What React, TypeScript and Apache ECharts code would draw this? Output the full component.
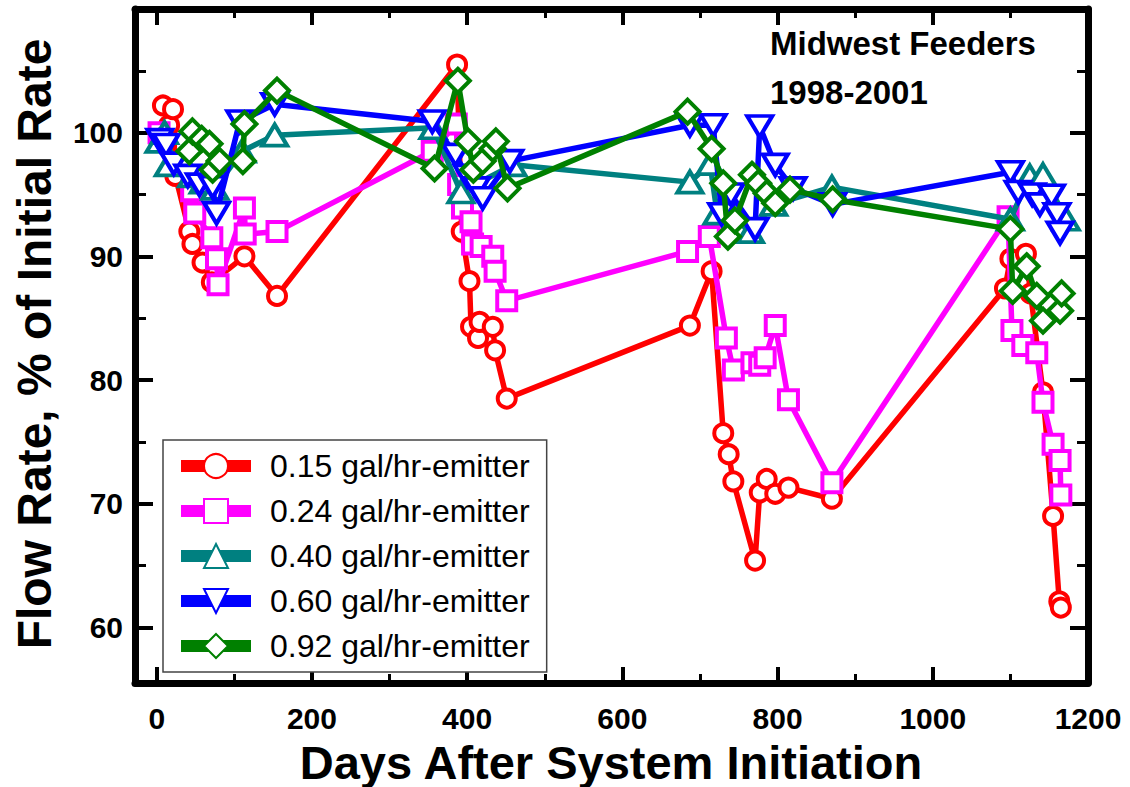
import React, { useEffect, useRef } from "react";
import * as echarts from "echarts";

const FONT = '"Liberation Sans", Arial, Helvetica, sans-serif';

const seriesNames = [
  "0.15 gal/hr-emitter",
  "0.24 gal/hr-emitter",
  "0.40 gal/hr-emitter",
  "0.60 gal/hr-emitter",
  "0.92 gal/hr-emitter",
];
const seriesColors = ["#ff0000", "#ff00ff", "#008080", "#0000ff", "#008000"];

const redDays = [8, 16, 21, 24, 42, 46, 59, 71, 113, 155, 387, 393, 403, 405, 414, 416, 433, 436, 451, 687, 715, 730, 737, 743, 771, 777, 786, 797, 814, 870, 1093, 1100, 1120, 1126, 1142, 1155, 1163, 1165];
const redValues = [102.2, 100.6, 101.9, 96.5, 92.0, 91.0, 89.5, 87.9, 90.0, 86.8, 105.5, 92.0, 88.0, 84.3, 83.4, 84.7, 84.3, 82.4, 78.5, 84.4, 88.8, 75.7, 74.0, 71.8, 65.4, 70.9, 72.0, 70.8, 71.3, 70.4, 87.4, 89.8, 90.2, 87.0, 79.0, 69.0, 62.1, 61.6];

const magentaDays = [3, 45, 49, 71, 77, 79, 113, 114, 155, 355, 386, 389, 394, 405, 407, 418, 433, 436, 451, 684, 712, 734, 743, 767, 777, 784, 797, 814, 870, 1097, 1102, 1116, 1134, 1142, 1155, 1164, 1165];
const magentaValues = [100.0, 95.3, 93.5, 91.5, 89.8, 87.7, 93.9, 91.8, 92.0, 98.5, 100.7, 95.8, 93.9, 92.8, 91.0, 90.8, 90.0, 88.8, 86.4, 90.4, 91.6, 83.4, 80.8, 81.4, 81.2, 81.8, 84.4, 78.4, 71.7, 93.2, 84.0, 82.8, 82.2, 78.2, 74.8, 73.5, 70.7];

const tealDays = [3, 10, 15, 45, 60, 75, 110, 152, 356, 392, 459, 687, 713, 722, 752, 765, 795, 870, 1100, 1125, 1142, 1172];
const tealValues = [99.3, 100.0, 97.4, 96.5, 96.0, 95.5, 98.5, 99.8, 100.4, 95.2, 97.4, 96.0, 97.5, 93.5, 92.0, 92.0, 94.2, 95.6, 93.0, 96.5, 96.6, 93.0];

const blueDays = [4, 12, 22, 40, 55, 72, 77, 107, 152, 355, 385, 400, 412, 420, 455, 687, 717, 728, 740, 771, 777, 797, 820, 871, 1100, 1110, 1128, 1138, 1153, 1160, 1164];
const blueValues = [99.4, 99.0, 97.5, 96.5, 95.8, 95.6, 93.5, 100.9, 102.3, 100.9, 98.2, 96.5, 95.5, 94.7, 97.7, 100.6, 100.6, 93.4, 95.0, 92.2, 100.5, 97.4, 95.5, 94.2, 96.8, 95.2, 95.0, 94.2, 94.9, 93.4, 91.9];

const greenDays = [42, 46, 58, 68, 72, 81, 111, 113, 155, 358, 388, 401, 408, 420, 433, 437, 452, 684, 715, 730, 736, 745, 767, 775, 786, 797, 816, 871, 1100, 1103, 1121, 1134, 1142, 1164, 1166];
const greenValues = [98.5, 100.1, 99.5, 99.1, 97.0, 97.7, 97.7, 100.7, 103.4, 97.1, 104.2, 99.3, 97.0, 97.7, 98.7, 99.3, 95.5, 101.7, 98.7, 95.9, 91.6, 92.9, 96.6, 95.9, 95.1, 94.3, 95.4, 94.6, 92.2, 87.2, 89.2, 86.8, 84.8, 85.6, 87.0];

const xMajorTicks = [0, 200, 400, 600, 800, 1000, 1200];
const xMinorTicks = [100, 300, 500, 700, 900, 1100];
const yMajorTicks = [60, 70, 80, 90, 100];
const yMinorTicks = [65, 75, 85, 95, 105];

const X_MIN = -28;
const X_MAX = 1200;
const Y_MIN = 55.5;
const Y_MAX = 110;

function axisDef(kind: "x" | "y", position: string, ticks: number[], len: number, tw: number, showLine: boolean, labels: number[] | null) {
  return {
    type: "value",
    position,
    min: kind === "x" ? X_MIN : Y_MIN,
    max: kind === "x" ? X_MAX : Y_MAX,
    axisLine: { show: showLine, onZero: false, lineStyle: { color: "#000", width: 7 } },
    axisTick: { show: true, inside: true, length: len, lineStyle: { color: "#000", width: tw }, customValues: ticks },
    axisLabel: labels
      ? {
          show: true,
          customValues: labels,
          formatter: (v: number) => String(v),
          fontSize: 30,
          fontWeight: "bold",
          color: "#000",
          fontFamily: FONT,
          margin: kind === "x" ? 20 : 12,
        }
      : { show: false },
    splitLine: { show: false },
    minorTick: { show: false },
  };
}

function lineSeries(idx: number, days: number[], values: number[], symbol: string, size: number | number[], rotate: number) {
  const color = seriesColors[idx];
  return {
    name: seriesNames[idx],
    type: "line",
    xAxisIndex: 0,
    yAxisIndex: 0,
    data: days.map((d, i) => [d, values[i]]),
    symbol,
    symbolSize: size,
    symbolRotate: rotate,
    showAllSymbol: true,
    clip: false,
    lineStyle: { color, width: 5.5 },
    itemStyle: { color: "#fff", borderColor: color, borderWidth: 4 },
    emphasis: { disabled: true },
    z: 2 + idx,
  };
}

export default function App() {
  const ref = useRef<HTMLDivElement>(null);
  useEffect(() => {
    document.body.style.margin = "0";
    if (!ref.current) return;
    const chart = echarts.init(ref.current, null, { renderer: "svg" });
    chart.setOption({
      animation: false,
      backgroundColor: "#fff",
      grid: { left: 135, right: 42, top: 9, bottom: 104, containLabel: false },
      xAxis: [
        axisDef("x", "bottom", xMajorTicks, 16, 4, true, xMajorTicks),
        axisDef("x", "bottom", xMinorTicks, 9, 3, false, null),
        axisDef("x", "top", xMajorTicks, 16, 4, true, null),
        axisDef("x", "top", xMinorTicks, 9, 3, false, null),
      ],
      yAxis: [
        axisDef("y", "left", yMajorTicks, 18, 4, true, yMajorTicks),
        axisDef("y", "left", yMinorTicks, 11, 3, false, null),
        axisDef("y", "right", yMajorTicks, 18, 4, true, null),
        axisDef("y", "right", yMinorTicks, 11, 3, false, null),
      ],
      legend: {
        orient: "vertical",
        left: 163,
        top: 440,
        padding: [10, 17, 10, 12],
        itemWidth: 70,
        itemHeight: 30,
        itemGap: 13,
        borderColor: "#444",
        borderWidth: 1.5,
        backgroundColor: "#fff",
        selectedMode: false,
        data: seriesNames,
        lineStyle: { width: 12 },
        textStyle: { fontSize: 32, color: "#000", fontFamily: FONT, padding: [0, 0, 0, 14] },
      },
      graphic: [
        { type: "text", x: 770, y: 43, style: { text: "Midwest Feeders", fontSize: 33, fontWeight: "bold", fontFamily: FONT, fill: "#000", align: "left", verticalAlign: "middle" } },
        { type: "text", x: 770, y: 92, style: { text: "1998-2001", fontSize: 33, fontWeight: "bold", fontFamily: FONT, fill: "#000", align: "left", verticalAlign: "middle" } },
        { type: "text", x: 611, y: 762, style: { text: "Days After System Initiation", fontSize: 47, fontWeight: "bold", fontFamily: FONT, fill: "#000", align: "center", verticalAlign: "middle" } },
        { type: "text", x: 34, y: 344, rotation: Math.PI / 2, style: { text: "Flow Rate, % of Initial Rate", fontSize: 48, fontWeight: "bold", fontFamily: FONT, fill: "#000", align: "center", verticalAlign: "middle" } },
      ],
      series: [
        lineSeries(0, redDays, redValues, "circle", 18, 0),
        lineSeries(1, magentaDays, magentaValues, "rect", 19, 0),
        lineSeries(2, tealDays, tealValues, "triangle", [25, 21], 0),
        lineSeries(3, blueDays, blueValues, "triangle", [25, 21], 180),
        lineSeries(4, greenDays, greenValues, "diamond", [24, 24], 0),
      ],
    });
    return () => chart.dispose();
  }, []);
  return <div ref={ref} style={{ width: 1130, height: 787 }} />;
}
